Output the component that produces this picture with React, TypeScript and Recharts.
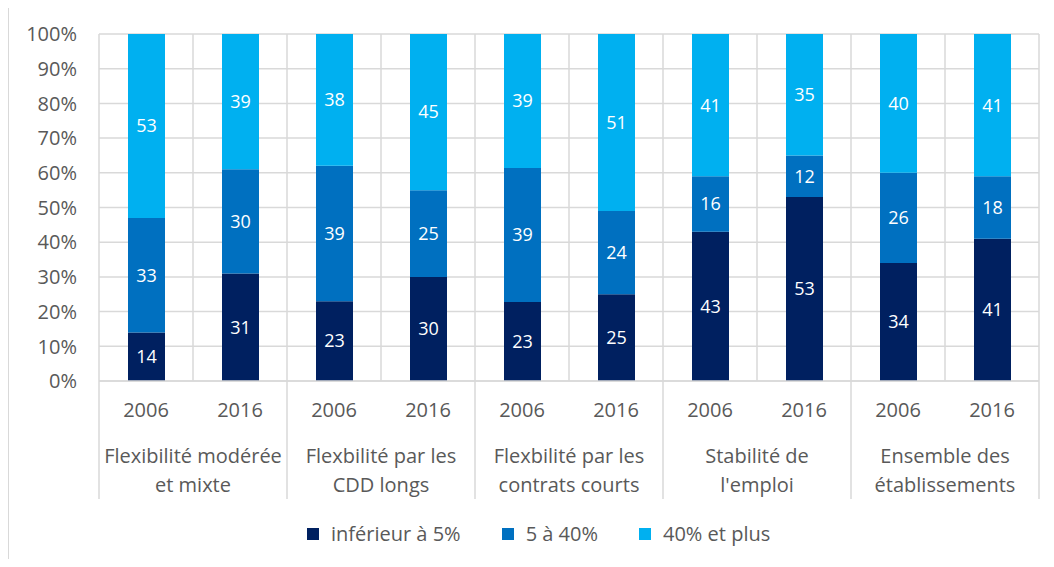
import React from 'react';
import { BarChart, Bar, XAxis, YAxis, CartesianGrid, Legend, LabelList } from 'recharts';

const years = ['2006', '2016', '2006', '2016', '2006', '2016', '2006', '2016', '2006', '2016'];
const groupLabels: string[][] = [
  ['Flexibilité modérée', 'et mixte'],
  ['Flexbilité par les', 'CDD longs'],
  ['Flexbilité par les', 'contrats courts'],
  ['Stabilité de', "l'emploi"],
  ['Ensemble des', 'établissements'],
];
const low = [14, 31, 23, 30, 23, 25, 43, 53, 34, 41];
const mid = [33, 30, 39, 25, 39, 24, 16, 12, 26, 18];
const high = [53, 39, 38, 45, 39, 51, 41, 35, 40, 41];
const yTicks = [0, 0.1, 0.2, 0.3, 0.4, 0.5, 0.6, 0.7, 0.8, 0.9, 1];

const seriesNames = ['inférieur à 5%', '5 à 40%', '40% et plus'];
const colors = ['#002060', '#0070C0', '#00B0F0'];

const data = years.map((y, i) => ({ key: i, year: y, low: low[i], mid: mid[i], high: high[i] }));

const FONT = '"Open Sans", sans-serif';
const TXT = '#595959';
const GRID = '#d9d9d9';
const FS = 20;

const XTick = (props: any) => {
  const { x, y, payload, index } = props;
  const idx = payload.index ?? index;
  const half = payload.offset || 47;
  const elems: any[] = [];
  elems.push(
    <text key="y" x={x} y={y + 36} textAnchor="middle" fill={TXT} fontSize={FS} fontFamily={FONT}>
      {years[idx]}
    </text>
  );
  if (idx % 2 === 0) {
    const lines = groupLabels[idx / 2];
    elems.push(
      <line key="l" x1={x - half} x2={x - half} y1={y} y2={y + 118} stroke={GRID} strokeWidth={1.5} />
    );
    elems.push(
      <text key="t" x={x + half} y={y + 82} textAnchor="middle" fill={TXT} fontSize={FS} fontFamily={FONT}>
        <tspan x={x + half} dy={0}>{lines[0]}</tspan>
        <tspan x={x + half} dy={29}>{lines[1]}</tspan>
      </text>
    );
  }
  if (idx === years.length - 1) {
    elems.push(
      <line key="r" x1={x + half} x2={x + half} y1={y} y2={y + 118} stroke={GRID} strokeWidth={1.5} />
    );
  }
  return <g>{elems}</g>;
};

const YTick = (props: any) => {
  const { x, y, payload } = props;
  return (
    <text x={x - 22} y={y} dy="0.36em" textAnchor="end" fill={TXT} fontSize={FS} fontFamily={FONT}>
      {Math.round(payload.value * 100) + '%'}
    </text>
  );
};

const LegendContent = () => (
  <div style={{ display: 'flex', alignItems: 'center', fontFamily: FONT, fontSize: FS, color: TXT }}>
    {seriesNames.map((n, i) => (
      <div key={n} style={{ display: 'flex', alignItems: 'center', marginRight: 41 }}>
        <div style={{ width: 12, height: 12, background: colors[i], marginRight: 12 }} />
        <span>{n}</span>
      </div>
    ))}
  </div>
);

const vGen = ({ offset }: any) => {
  const arr: number[] = [];
  for (let i = 0; i <= years.length; i++) arr.push(offset.left + (i * offset.width) / years.length);
  return arr;
};

export default function App() {
  return (
    <div style={{ position: 'relative', width: 1054, height: 567, margin: -8, overflow: 'hidden', background: '#fff' }}>
      <div
        style={{
          position: 'absolute',
          left: 8,
          top: 5,
          width: 1100,
          height: 600,
          border: `1.5px solid ${GRID}`,
        }}
      />
      <div style={{ position: 'absolute', left: 0, top: 0 }}>
        <BarChart
          width={1054}
          height={567}
          data={data}
          stackOffset="expand"
          margin={{ top: 34, right: 15, bottom: 0, left: 0 }}
        >
          <CartesianGrid stroke={GRID} strokeWidth={1.5} verticalCoordinatesGenerator={vGen} />
          <XAxis
            dataKey="key"
            height={186}
            tickLine={false}
            tickSize={0}
            tickMargin={0}
            axisLine={{ stroke: GRID, strokeWidth: 1.5 }}
            tick={<XTick />}
            interval={0}
          />
          <YAxis
            width={99}
            domain={[0, 1]}
            ticks={yTicks}
            tickLine={false}
            tickSize={0}
            tickMargin={0}
            axisLine={false}
            tick={<YTick />}
            interval={0}
          />
          <Legend
            verticalAlign="middle"
            align="center"
            layout="horizontal"
            content={<LegendContent />}
            wrapperStyle={{ top: 520, left: 307, width: 600, height: 27 }}
          />
          <Bar dataKey="low" name={seriesNames[0]} stackId="a" fill={colors[0]} barSize={37} isAnimationActive={false}>
            <LabelList dataKey="low" position="center" fill="#fff" fontSize={18} fontFamily={FONT} />
          </Bar>
          <Bar dataKey="mid" name={seriesNames[1]} stackId="a" fill={colors[1]} barSize={37} isAnimationActive={false}>
            <LabelList dataKey="mid" position="center" fill="#fff" fontSize={18} fontFamily={FONT} />
          </Bar>
          <Bar dataKey="high" name={seriesNames[2]} stackId="a" fill={colors[2]} barSize={37} isAnimationActive={false}>
            <LabelList dataKey="high" position="center" fill="#fff" fontSize={18} fontFamily={FONT} />
          </Bar>
        </BarChart>
      </div>
    </div>
  );
}
